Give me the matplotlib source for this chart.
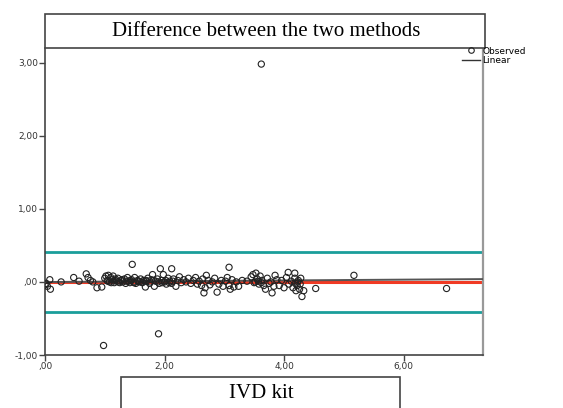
import matplotlib.pyplot as plt
import numpy as np
from matplotlib.patches import Rectangle
from matplotlib.lines import Line2D

# valores (media x diferenca)
x_vals = [3.62, 0.98, 1.90, 1.46, 1.93, 2.12, 3.08, 5.17, 6.72, 4.53, 4.30, 4.33, 4.18, 4.07,
          0.00, 0.02, 0.04, 0.09, 0.08, 0.27,
          0.48, 0.57, 0.69, 0.72, 0.76, 0.80, 0.87, 0.95,
          1.00, 1.02, 1.04, 1.06, 1.08, 1.10, 1.12, 1.14, 1.16, 1.18, 1.20, 1.22, 1.25, 1.28,
          1.30, 1.33, 1.35, 1.38, 1.40, 1.42, 1.45, 1.48, 1.50, 1.52, 1.55, 1.58, 1.60, 1.63,
          1.65, 1.68, 1.70, 1.72, 1.75, 1.78, 1.80, 1.83, 1.85, 1.88, 1.91, 1.95, 1.98,
          2.00, 2.03, 2.06, 2.09, 2.12, 2.15, 2.19, 2.22, 2.25, 2.28, 2.32, 2.36, 2.40, 2.44,
          2.48, 2.52, 2.55, 2.58, 2.62, 2.64, 2.66, 2.68, 2.70, 2.73, 2.76, 2.80, 2.84, 2.88,
          2.91, 2.95, 2.98, 3.02, 3.05, 3.08, 3.10, 3.13, 3.16, 3.20, 3.24, 3.30, 3.38,
          3.45, 3.48, 3.50, 3.53, 3.55, 3.58, 3.60, 3.63, 3.66, 3.69, 3.72, 3.75, 3.78, 3.80,
          3.83, 3.85, 3.88, 3.92, 3.96, 4.00, 4.04, 4.08, 4.12, 4.15, 4.18, 4.20, 4.22, 4.24,
          4.26, 4.28,
          1.05, 1.11, 1.17, 1.23, 1.29, 1.36, 1.43, 1.49, 1.56, 1.62, 1.69, 1.76, 1.82, 1.89,
          1.96, 2.02, 2.08, 2.14, 3.52, 3.57, 3.62, 4.19, 4.23, 4.27]
y_vals = [2.98, -0.87, -0.71, 0.24, 0.18, 0.18, 0.20, 0.09, -0.09, -0.09, -0.20, -0.12, 0.12, 0.13,
          -0.04, -0.02, -0.06, -0.10, 0.03, 0.00,
          0.06, 0.01, 0.11, 0.06, 0.02, 0.00, -0.08, -0.07,
          0.05, 0.08, 0.02, 0.09, 0.00, 0.06, 0.03, 0.08, -0.01, 0.04, 0.01, 0.05, -0.01, 0.02,
          0.00, 0.04, -0.02, 0.06, 0.01, -0.01, 0.03, 0.00, 0.06, -0.02, 0.02, 0.00, 0.04, -0.01,
          0.02, -0.07, 0.01, 0.05, -0.02, 0.03, 0.10, -0.06, 0.01, 0.04, -0.02, 0.02, 0.10,
          0.00, -0.03, 0.05, 0.01, -0.02, 0.04, -0.06, 0.02, 0.07, -0.01, 0.03, 0.00, 0.05, -0.02,
          0.02, 0.06, -0.03, 0.01, -0.05, 0.04, -0.15, -0.08, 0.09, 0.02, -0.04, 0.00, 0.05, -0.14,
          -0.03, 0.02, -0.06, 0.01, 0.06, -0.05, -0.10, 0.03, -0.07, 0.00, -0.06, 0.02, 0.01,
          0.07, 0.10, -0.01, 0.12, 0.04, -0.03, 0.08, 0.02, -0.05, -0.10, 0.05, -0.02, 0.00, -0.15,
          -0.06, 0.09, 0.03, -0.05, 0.02, -0.08, 0.06, -0.03, 0.01, -0.08, 0.05, -0.12, -0.05, 0.02,
          -0.10, 0.05,
          0.01, -0.01, 0.02, 0.00, 0.03, 0.01, 0.02, -0.01, 0.01, 0.00, 0.02, 0.00, 0.02, 0.00,
          -0.01, 0.02, -0.01, 0.01, 0.00, 0.01, -0.01, -0.02, 0.00, -0.03]

media_dif = 0.0
limite_sup = 0.41
limite_inf = -0.41
fit_intercept = -0.002
fit_slope = 0.0055

x_ticks = [0, 2, 4, 6]
x_ticklabels = [',00', '2,00', '4,00', '6,00']
y_ticks = [-1, 0, 1, 2, 3]
y_ticklabels = ['-1,00', ',00', '1,00', '2,00', '3,00']

fig = plt.figure(figsize=(5.63, 4.08), dpi=100)
ax = fig.add_axes([45/563, 1 - 355/408, 438/563, 307/408])

ax.set_xlim(0, 7.33)
ax.set_ylim(-1, 3.2)

# linhas de limites e media
ax.axhline(limite_sup, color='#1a9e9a', lw=2, zorder=1)
ax.axhline(limite_inf, color='#1a9e9a', lw=2, zorder=1)
ax.axhline(media_dif, color='#f03a24', lw=2.2, zorder=2)

# regressao linear
xl = np.array(ax.get_xlim())
ax.plot(xl, fit_intercept + fit_slope * xl, color='#555555', lw=1.4, zorder=3)

ax.scatter(x_vals, y_vals, s=20, facecolors='none', edgecolors='#222222', linewidths=0.8, zorder=4)

ax.set_xticks(x_ticks)
ax.set_xticklabels(x_ticklabels)
ax.set_yticks(y_ticks)
ax.set_yticklabels(y_ticklabels)
ax.tick_params(axis='both', labelsize=6.5, labelcolor='#333333', color='#444444',
               length=4, width=1, pad=1)

for lado in ['left', 'bottom']:
    ax.spines[lado].set_color('#444444')
    ax.spines[lado].set_linewidth(1.2)
ax.spines['right'].set_color('#999999')
ax.spines['right'].set_linewidth(1.6)
ax.spines['top'].set_visible(False)

# caixa do titulo
fig.patches.append(Rectangle((45/563, 1 - 48/408), 440/563, 34/408, transform=fig.transFigure,
                             facecolor='white', edgecolor='#444444', lw=1.2))
fig.text(266/563, 1 - 31/408, 'Difference between the two methods', ha='center', va='center',
         family='Liberation Serif', fontsize=15)

# caixa do eixo x
fig.patches.append(Rectangle((121/563, 1 - 420/408), 279/563, 43/408, transform=fig.transFigure,
                             facecolor='white', edgecolor='#444444', lw=1.2))
fig.text(261/563, 1 - 394/408, 'IVD kit', ha='center', va='center',
         family='Liberation Serif', fontsize=15)

# legenda
handles = [Line2D([], [], marker='o', ls='none', markerfacecolor='none', markeredgecolor='#222222',
                  markersize=4, markeredgewidth=0.8),
           Line2D([], [], color='#333333', lw=1)]
fig.legend(handles, ['Observed', 'Linear'], loc='upper left', bbox_to_anchor=(457/563, 1 - 42/408),
           frameon=False, fontsize=6.5, handlelength=2.0, handletextpad=0.3, labelspacing=0.1,
           borderpad=0)

fig.savefig('out.png', dpi=100)
